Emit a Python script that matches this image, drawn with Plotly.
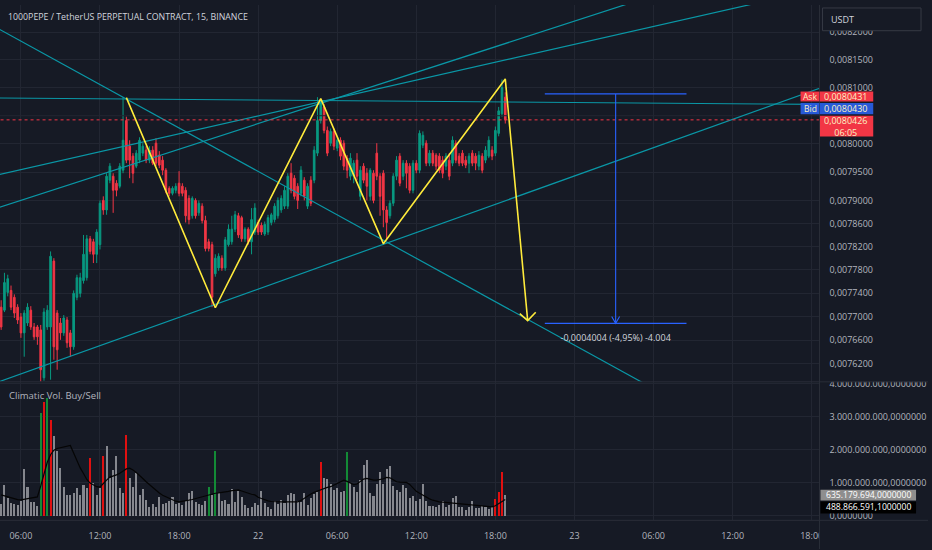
import math
import pandas as pd
import plotly.graph_objects as go

# --- colours / fonts (TradingView dark theme) ---
BG = "#161a25"
GRID = "#222632"
AXIS_TEXT = "#b2b5be"
TITLE_TEXT = "#d1d4dc"
UP = "#089981"
DOWN = "#f23645"
TEAL = "#0a97a6"
YELLOW = "#ffeb3b"
BLUE = "#2962ff"
FONT = "Open Sans"

W, H = 932, 550

# --- 15m candles, 1000PEPE/USDT, prices in 1e-7 USDT ---
opens = [
    77160, 77109, 77412, 77446, 77328, 77160, 76991, 76722, 76890, 77109,
    76823, 76823, 76773, 75964, 76823, 76823, 77951, 77059, 76890, 76722,
    76941, 76722, 76486, 77328, 77396, 77615, 77665, 78336, 78285, 78068,
    78235, 79005, 78838, 79359, 79429, 79306, 79253, 79535, 80413, 79959,
    79783, 79606, 79712, 79836, 79889, 79712, 79889, 80012, 79800, 79712,
    79535, 79217, 79129, 79182, 79306, 79253, 79182, 79041, 78737, 79005,
    78788, 78905, 78654, 78285, 78235, 77732, 77833, 78001, 77833, 78235,
    78285, 78503, 78737, 78704, 78336, 78503, 78285, 78453, 78620, 78570,
    78420,
    78453, 78620, 78670, 78737, 78838, 78905, 78905, 79482, 79394, 79253,
    79129, 79359, 78905, 79359, 79359, 79836, 80413, 80657, 80239, 80012,
    80221, 79924, 80064, 80012, 79747, 79429, 79429, 79712, 79076, 79606,
    79482, 79076, 79482, 79836, 79429, 79482, 78838, 78737, 78955, 79429,
    79783, 79429, 79659, 79606, 79182, 79659, 79535, 79977, 80012, 79659,
    79836, 79800, 79783, 79712, 79606, 79712, 79659, 80012, 79783, 79836,
    79712, 79659, 79836, 79783, 79606, 79783, 79712, 79783, 79889, 79836,
    80186, 80535, 80831,
]
highs = [
    77278, 77749, 77716, 77530, 77379, 77210, 77059, 77109, 77227, 77177,
    76890, 76857, 76857, 77143, 77194, 78118, 78001, 77109, 76975, 77025,
    76991, 76773, 77446, 77716, 77749, 78403, 78403, 78386, 78336, 78503,
    79005, 79076, 79482, 79659, 79482, 79359, 79659, 80831, 80483, 80064,
    79836, 79889, 80117, 80012, 79959, 79959, 79959, 80099, 79871, 79783,
    79571, 79253, 79253, 79306, 79518, 79306, 79235, 79094, 79076, 79041,
    79005, 78955, 78737, 78336, 78285, 78068, 78085, 78051, 78369, 78587,
    78737, 78821, 78788, 78737, 78537, 78537, 78871, 78955, 78670, 78620,
    78637,
    78754, 78788, 78955, 79058, 79094, 79253, 79482, 79659, 79447, 79306,
    79606, 79412, 79306, 79429, 79959, 80831, 80796, 80709, 80308, 80273,
    80273, 80117, 80117, 80064, 79800, 79836, 79712, 79836, 79606, 79659,
    79571, 79571, 79535, 80012, 79482, 79535, 78905, 79005, 79482, 79783,
    79836, 79712, 79712, 79659, 79712, 79712, 80239, 80221, 80064, 79889,
    79889, 79836, 79836, 79783, 79836, 79836, 80134, 80064, 79836, 79889,
    79783, 79836, 79889, 79836, 79871, 79836, 79959, 80134, 79959, 80308,
    80657, 81149, 80918,
]
lows = [
    76773, 77076, 77345, 77109, 76975, 76874, 76638, 76318, 76840, 76773,
    76604, 76520, 75897, 75914, 76773, 75931, 76267, 76099, 76604, 76672,
    76469, 76318, 76436, 77278, 77328, 77564, 77615, 78068, 77917, 77917,
    78152, 78754, 78754, 79306, 78788, 79076, 79217, 79482, 79659, 79394,
    79306, 79571, 79659, 79783, 79659, 79659, 79624, 79606, 79571, 79447,
    79129, 79076, 79094, 79129, 79076, 79076, 78620, 78587, 78687, 78687,
    78737, 78604, 78118, 78118, 77160, 77682, 77783, 77783, 77783, 78202,
    78235, 78453, 78352, 78285, 78285, 78235, 78068, 78403, 78403, 78403,
    78386,
    78403, 78570, 78620, 78687, 78788, 78855, 78855, 79129, 79023, 78855,
    79076, 79005, 78855, 78905, 79306, 79783, 80361, 80186, 79783, 79959,
    79889, 79871, 79712, 79535, 79394, 79359, 79306, 79359, 79005, 79306,
    79005, 79005, 78955, 79359, 78737, 78537, 78319, 78687, 78905, 79359,
    79253, 79359, 79217, 79129, 79129, 79482, 79482, 79924, 79606, 79606,
    79606, 79535, 79482, 79394, 79535, 79359, 79606, 79659, 79606, 79606,
    79571, 79482, 79606, 79535, 79535, 79482, 79659, 79747, 79712, 79783,
    80134, 80483, 80361,
]
closes = [
    76823, 77581, 77648, 77160, 77059, 76941, 76722, 77059, 77160, 76823,
    76655, 76655, 76099, 77076, 77109, 78034, 76486, 76436, 76722, 76975,
    76554, 76486, 77396, 77665, 77665, 78068, 78336, 78118, 78068, 78453,
    78955, 78838, 79429, 79606, 79182, 79182, 79606, 80064, 79712, 79712,
    79482, 79836, 80064, 79959, 79712, 79889, 79659, 79659, 79624, 79535,
    79182, 79129, 79217, 79253, 79129, 79129, 78737, 78670, 79041, 78737,
    78955, 78654, 78168, 78168, 77328, 78001, 78034, 77833, 78319, 78503,
    78503, 78754, 78403, 78336, 78503, 78285, 78670, 78871, 78453, 78453,
    78587,
    78704, 78754, 78905, 79005, 79041, 79182, 79429, 79182, 79076, 79005,
    79535, 79076, 79253, 78955, 79889, 80413, 80761, 80239, 79836, 80221,
    79959, 80064, 79783, 79606, 79535, 79747, 79659, 79429, 79535, 79359,
    79253, 79535, 79005, 79429, 79076, 78838, 78620, 78955, 79429, 79712,
    79306, 79659, 79482, 79182, 79659, 79535, 80186, 80152, 79659, 79836,
    79659, 79606, 79535, 79482, 79783, 79429, 80064, 79712, 79659, 79659,
    79624, 79783, 79659, 79659, 79800, 79535, 79889, 80064, 79783, 80239,
    80587, 81005, 80426,
]
first_bar = "2023-12-21 04:30"

# --- Climatic Vol. Buy/Sell (millions) ---
volumes_m = [
    360, 930, 540, 390, 360, 330, 460, 1410, 870, 420,
    420, 300, 3120, 3460, 3580, 2910, 2430, 1980, 1440, 870,
    630, 630, 690, 840, 630, 930, 840, 1770, 990, 630,
    840, 1810, 2130, 1140, 1380, 1810, 840, 690, 2460, 1140,
    870, 1300, 630, 810, 480, 280, 360, 280, 570, 360,
    390, 460, 570, 360, 390, 330, 460, 690, 760, 420,
    360, 330, 460, 870, 630, 1980, 690, 460, 480, 360,
    810, 420, 760, 570, 330, 240, 280, 390, 330,
    760, 390, 270, 210, 460, 360, 480, 390, 630, 700,
    660, 460, 420, 690, 330, 540, 660, 730, 1630, 1140,
    1110, 960, 780, 840, 730, 760, 1930, 1000, 870, 730,
    1080, 1530, 1710, 690, 600, 960, 1330, 980, 1430, 1500,
    900, 780, 730, 930, 840, 540, 600, 460, 510, 980,
    460, 300, 300, 270, 330, 460, 280, 330, 540, 600,
    280, 270, 180, 270, 460, 240, 240, 300, 280, 210,
    270, 510, 730, 1330, 635.179694,
]
climax_buy_idx = [12, 14, 63, 65, 105]
climax_sell_idx = [13, 15, 27, 31, 38, 97, 150, 151, 152]
vol_ma_m = [
    630, 600, 560, 530, 510, 490, 480, 500, 530, 550,
    560, 570, 900, 1300, 1620, 1850, 1990, 2040, 2060, 2080,
    2100, 2130, 1900, 1650, 1450, 1280, 1100, 990, 930, 880,
    870, 960, 1080, 1170, 1200, 1240, 1290, 1350, 1420, 1440,
    1390, 1310, 1230, 1130, 1030, 940, 870, 780, 690, 620,
    570, 520, 480, 440, 420, 430, 450, 470, 490, 520,
    540, 560, 590, 620, 650, 680, 690, 700, 720, 740,
    760, 770, 780, 750, 710, 680, 650, 630, 560, 520,
    480, 450, 430, 420, 420, 420, 420, 420, 420, 420,
    420, 460, 530, 600, 660, 710, 750, 800, 840, 860,
    880, 930, 990, 1040, 1080, 1040, 990, 940, 960, 1040,
    1110, 1130, 1100, 1080, 1080, 1090, 1120, 1160, 1150, 1090,
    1030, 1020, 1020, 1010, 950, 850, 740, 680, 620, 560,
    510, 470, 440, 420, 410, 400, 400, 390, 390, 380,
    370, 360, 350, 340, 330, 320, 310, 290, 280, 270,
    300, 370, 440, 488.8665911,
]

# --- drawings (hours since 21 Dec 00:00, price) ---
trend_h0 = [4.0, 4.0, 4.0, 4.0, 4.0]
trend_p0 = [0.0080817, 0.0082102, 0.0079441, 0.0078855, 0.0075870]
trend_h1 = [67.0, 55.0, 64.0, 56.0, 67.0]
trend_p1 = [0.0080700, 0.0075660, 0.0082650, 0.0082827, 0.0081023]

zigzag_h = [14.0, 20.75, 28.75, 33.5, 42.75, 44.45]
zigzag_p = [0.0080822, 0.0077150, 0.0080804, 0.0078252, 0.0081158, 0.0076932]
arrow_h = [43.85, 44.45, 45.06]
arrow_p = [0.0077049, 0.0076932, 0.0077074]

measure_h = [45.75, 56.5]
measure_mid_h = 51.125
measure_top = 0.0080889
measure_bottom = 0.0076885
measure_text = "-0,0004004 (-4,95%) -4.004"

last_price = 0.0080426
ask_price, bid_price = "0,0080431", "0,0080430"
countdown = "06:05"

# --- axes ---
price_ticks = [0.00762, 0.00766, 0.0077, 0.00774, 0.00778, 0.00782, 0.00786,
               0.0079, 0.00795, 0.008, 0.0081, 0.00815, 0.0082]
hidden_grid_price = 0.00805   # its label sits under the last-price tag
vol_ticks = [0, 1e9, 2e9, 3e9, 4e9]
vol_tick_text = ["0,0000000", "1.000.000.000,0000000", "2.000.000.000,0000000",
                 "3.000.000.000,0000000", "4.000.000.000,0000000"]
time_tick_h = [6, 12, 18, 24, 30, 36, 42, 48, 54, 60, 66]
time_tick_text = ["06:00", "12:00", "18:00", "22", "06:00", "12:00", "18:00",
                  "23", "06:00", "12:00", "18:00"]


def at(h):
    return pd.Timestamp("2023-12-21") + pd.Timedelta(hours=h)


def px(x, y):
    """pixel position -> paper coords"""
    return x / W, 1 - y / H


times = pd.date_range(first_bar, periods=len(closes), freq="15min")
sc = 1e-7

vol_colors = ["rgba(165,167,172,0.78)"] * len(volumes_m)
for i in climax_buy_idx:
    vol_colors[i] = "#138a36"
for i in climax_sell_idx:
    vol_colors[i] = "#e01010"

fig = go.Figure()

# grid line of the hidden 0,0080500 tick
fig.add_trace(go.Scatter(x=[at(4.0), at(67.0)], y=[hidden_grid_price] * 2, mode="lines",
                         line=dict(color=GRID, width=1),
                         xaxis="x", yaxis="y", showlegend=False))

fig.add_trace(go.Candlestick(
    x=times,
    open=[v * sc for v in opens], high=[v * sc for v in highs],
    low=[v * sc for v in lows], close=[v * sc for v in closes],
    increasing=dict(line=dict(color=UP, width=1), fillcolor=UP),
    decreasing=dict(line=dict(color=DOWN, width=1), fillcolor=DOWN),
    whiskerwidth=0, xaxis="x", yaxis="y", showlegend=False,
))

# trend lines
for h0, p0, h1, p1 in zip(trend_h0, trend_p0, trend_h1, trend_p1):
    fig.add_trace(go.Scatter(x=[at(h0), at(h1)], y=[p0, p1], mode="lines",
                             line=dict(color=TEAL, width=1.2),
                             xaxis="x", yaxis="y", showlegend=False))

# current price dotted line
fig.add_trace(go.Scatter(x=[at(4.0), at(67.0)], y=[last_price, last_price], mode="lines",
                         line=dict(color=DOWN, width=1, dash="dot"),
                         xaxis="x", yaxis="y", showlegend=False))

# yellow zigzag + arrow head
fig.add_trace(go.Scatter(x=[at(h) for h in zigzag_h], y=zigzag_p, mode="lines",
                         line=dict(color=YELLOW, width=1.6),
                         xaxis="x", yaxis="y", showlegend=False))
fig.add_trace(go.Scatter(x=[at(h) for h in arrow_h], y=arrow_p, mode="lines",
                         line=dict(color=YELLOW, width=1.6),
                         xaxis="x", yaxis="y", showlegend=False))

# price range measurement
for p in (measure_top, measure_bottom):
    fig.add_trace(go.Scatter(x=[at(h) for h in measure_h], y=[p, p], mode="lines",
                             line=dict(color=BLUE, width=1.3),
                             xaxis="x", yaxis="y", showlegend=False))
fig.add_trace(go.Scatter(x=[at(measure_mid_h)] * 2, y=[measure_top, measure_bottom],
                         mode="lines", line=dict(color=BLUE, width=1.1),
                         xaxis="x", yaxis="y", showlegend=False))
fig.add_trace(go.Scatter(x=[at(measure_mid_h - 0.3), at(measure_mid_h), at(measure_mid_h + 0.3)],
                         y=[measure_bottom * 1.0015, measure_bottom, measure_bottom * 1.0015],
                         mode="lines", line=dict(color=BLUE, width=1.1),
                         xaxis="x", yaxis="y", showlegend=False))
fig.add_trace(go.Scatter(x=[at(measure_mid_h)], y=[measure_bottom * 0.9965], mode="text",
                         text=[measure_text], textposition="middle center",
                         textfont=dict(family=FONT, size=9, color=TITLE_TEXT),
                         xaxis="x", yaxis="y", showlegend=False, cliponaxis=False))

# volume pane
fig.add_trace(go.Bar(x=times, y=[v * 1e6 for v in volumes_m], marker_color=vol_colors,
                     marker_line_width=0, width=560000,
                     xaxis="x2", yaxis="y2", showlegend=False))
fig.add_trace(go.Scatter(x=times, y=[v * 1e6 for v in vol_ma_m], mode="lines",
                         line=dict(color="#050505", width=1.2),
                         xaxis="x2", yaxis="y2", showlegend=False))

x_dom = [0, 823 / W]
x_range = [at(4.413), at(66.59)]
common_x = dict(type="date", range=x_range, domain=x_dom, tickvals=[at(h) for h in time_tick_h],
                ticktext=time_tick_text, showgrid=True, gridcolor=GRID, gridwidth=1,
                zeroline=False, showline=False, ticks="", fixedrange=True)

fig.update_layout(
    width=W, height=H,
    margin=dict(l=0, r=0, t=0, b=0),
    paper_bgcolor=BG, plot_bgcolor=BG,
    hovermode=False, showlegend=False, bargap=0,
    font=dict(family=FONT, color=AXIS_TEXT, size=9),
    xaxis=dict(common_x, anchor="y", showticklabels=False, rangeslider=dict(visible=False)),
    xaxis2=dict(common_x, anchor="y2", matches="x", showticklabels=True,
                tickfont=dict(family=FONT, size=9, color=AXIS_TEXT), ticklabelstandoff=9),
    yaxis=dict(type="log", domain=[1 - 381 / H, 1], anchor="x", side="right",
               range=[math.log10(0.0075895), math.log10(0.0082497)],
               tickvals=price_ticks, ticktext=[f"{v:.7f}".replace(".", ",") for v in price_ticks],
               showgrid=True, gridcolor=GRID, zeroline=False, showline=False, ticks="",
               ticklabelstandoff=9, tickfont=dict(family=FONT, size=9, color=AXIS_TEXT),
               fixedrange=True),
    yaxis2=dict(domain=[1 - 521 / H, 1 - 381 / H], anchor="x2", side="right",
                range=[-0.141e9, 4.063e9], tickvals=vol_ticks, ticktext=vol_tick_text,
                showgrid=True, gridcolor=GRID, zeroline=False, showline=False, ticks="",
                ticklabelstandoff=9, tickfont=dict(family=FONT, size=9, color=AXIS_TEXT),
                fixedrange=True),
)

shapes = []
annotations = []


def rect(x0, y0, x1, y1, fill, line=None):
    a, b = px(x0, y0)
    c, d = px(x1, y1)
    shapes.append(dict(type="rect", xref="paper", yref="paper", x0=a, y0=d, x1=c, y1=b,
                       fillcolor=fill, line=dict(width=1 if line else 0, color=line or fill),
                       layer="above"))


def label(x, y, text, color, size=9, anchor="center"):
    a, b = px(x, y)
    annotations.append(dict(xref="paper", yref="paper", x=a, y=b, text=text, showarrow=False,
                            xanchor=anchor, yanchor="middle",
                            font=dict(family=FONT, size=size, color=color)))


# covers to clip the time label and the top of the volume scale
rect(823.5, 521.5, W, H, BG)
rect(823.5, 374, W, 381, BG)

# pane separators
for (x0, y0, x1, y1) in [(0, 381, W, 381), (823, 0, 823, H), (0, 521, W, 521)]:
    a, b = px(x0, y0)
    c, d = px(x1, y1)
    shapes.append(dict(type="line", xref="paper", yref="paper", x0=a, y0=b, x1=c, y1=d,
                       line=dict(color="#2a2e39", width=1), layer="above"))

# USDT box
rect(826, 3, 925, 26, BG, line="#363a45")
label(833, 14.5, "USDT", TITLE_TEXT, anchor="left")

# ask / bid / last price labels
LABEL_TEXT = "#fbf1c4"
rect(804, 87.5, 823, 97.5, DOWN)
label(813.5, 92.5, "Ask", LABEL_TEXT, size=8.5)
rect(823.5, 87.5, 877, 97.5, DOWN)
label(850, 92.5, ask_price, LABEL_TEXT)
rect(804, 99, 823, 110.5, "#275ad8")
label(813.5, 104.8, "Bid", LABEL_TEXT, size=8.5)
rect(823.5, 99, 877, 110.5, "#275ad8")
label(850, 104.8, bid_price, LABEL_TEXT)
rect(823.5, 112, 877, 133, DOWN)
label(850, 122.5, f"{last_price:.7f}".replace(".", ",") + "<br>" + countdown, LABEL_TEXT)

# volume value labels
rect(824, 490, 920, 501, "#8e8e8e")
label(872, 495.5, "635.179.694,0000000", "#ffffff", size=8.6)
rect(824, 502, 920, 514, "#000000")
label(872, 508, "488.866.591,1000000", "#ffffff", size=8.6)

# titles
label(6, 12, "1000PEPE / TetherUS PERPETUAL CONTRACT, 15, BINANCE", TITLE_TEXT, size=8.8, anchor="left")
label(7, 395, "Climatic Vol. Buy/Sell", AXIS_TEXT, size=9.5, anchor="left")

fig.update_layout(shapes=shapes, annotations=annotations)

fig.write_html("out.html", config={"displayModeBar": False},
               post_script="document.body.style.margin='0';"
                           "document.body.style.background='#161a25';")
